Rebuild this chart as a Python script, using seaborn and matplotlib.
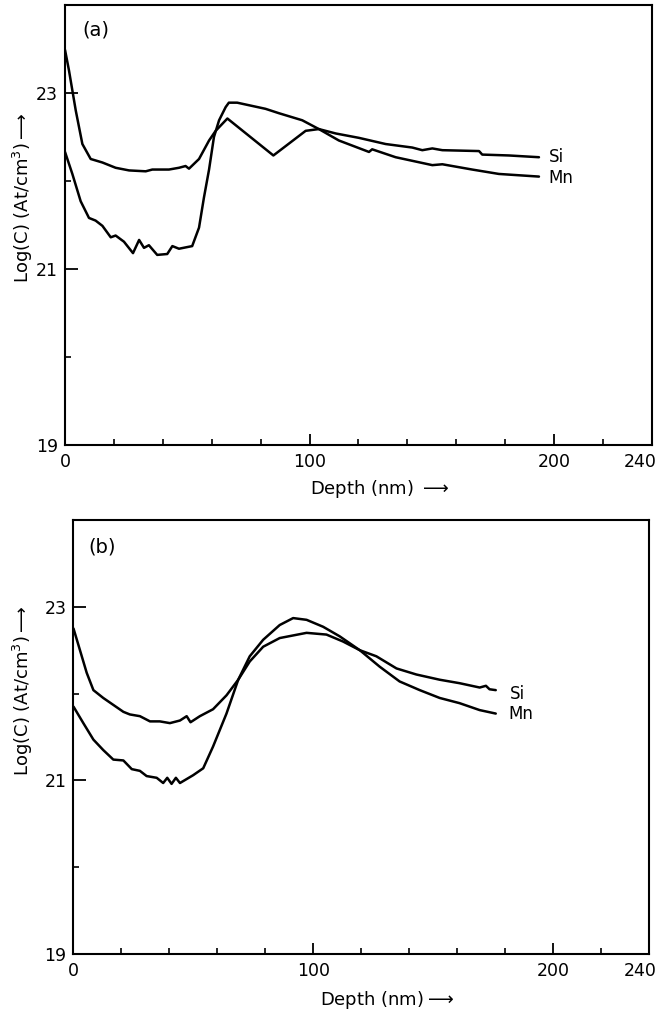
import matplotlib
matplotlib.use("Agg")
import matplotlib.pyplot as plt
import matplotlib.transforms as mtransforms
import seaborn as sns
import pandas as pd

# ---------------- data ----------------
si_a_x = [0, 1.6, 4.4, 7.1, 10.5, 15.3, 20.7, 26.2, 33.0, 35.7, 42.5, 46.6, 49.3, 50.7,
          54.8, 58.9, 61.6, 66.4, 85.2, 98.4, 103.8, 110.7, 120.2, 131.1, 142.0, 146.1,
          150.2, 154.3, 169.3, 170.6, 181.5, 193.8]
si_a_y = [23.49, 23.26, 22.80, 22.42, 22.25, 22.21, 22.15, 22.12, 22.11, 22.13, 22.13, 22.15,
          22.17, 22.14, 22.25, 22.46, 22.57, 22.71, 22.29, 22.57, 22.59, 22.54, 22.49, 22.42,
          22.38, 22.35, 22.37, 22.35, 22.34, 22.30, 22.29, 22.27]

mn_a_x = [0, 3.0, 6.4, 9.8, 12.5, 15.3, 18.7, 20.7, 24.1, 27.8, 30.3, 32.3, 34.3, 37.7,
          41.8, 43.9, 46.6, 52.0, 54.8, 56.8, 58.9, 60.9, 63.0, 65.7, 67.0, 70.4, 82.0,
          87.5, 97.0, 103.8, 112.0, 124.3, 125.6, 135.2, 150.2, 154.3, 166.5, 177.4, 193.8]
mn_a_y = [22.33, 22.08, 21.77, 21.58, 21.55, 21.49, 21.36, 21.38, 21.31, 21.18, 21.33, 21.24,
          21.27, 21.16, 21.17, 21.26, 21.23, 21.26, 21.47, 21.81, 22.13, 22.50, 22.69, 22.84,
          22.89, 22.89, 22.82, 22.77, 22.69, 22.59, 22.46, 22.33, 22.36, 22.27, 22.18, 22.19,
          22.13, 22.08, 22.05]

si_b_x = [0, 2.7, 5.5, 8.3, 12.4, 16.6, 20.8, 23.5, 27.7, 31.9, 36.0, 40.2, 44.4, 47.2,
          48.8, 52.7, 58.2, 63.8, 68.7, 73.5, 79.1, 86.0, 97.2, 105.5, 112.4, 119.4, 126.3,
          134.7, 143.0, 152.7, 161.0, 169.4, 172.0, 173.5, 176.1]
si_b_y = [22.75, 22.50, 22.24, 22.04, 21.95, 21.87, 21.79, 21.76, 21.74, 21.68, 21.68, 21.66,
          21.69, 21.74, 21.67, 21.74, 21.82, 21.98, 22.16, 22.37, 22.54, 22.64, 22.70, 22.68,
          22.60, 22.50, 22.43, 22.29, 22.22, 22.16, 22.12, 22.07, 22.09, 22.05, 22.04]

mn_b_x = [0, 4.1, 8.3, 12.4, 16.6, 20.8, 24.3, 27.7, 30.5, 34.7, 37.4, 39.1, 40.9, 42.7,
          44.4, 49.9, 54.1, 58.2, 63.8, 68.7, 73.5, 79.1, 86.0, 91.6, 97.2, 104.1, 111.0,
          119.4, 127.7, 136.0, 144.4, 152.7, 161.0, 169.4, 176.1]
mn_b_y = [21.85, 21.66, 21.47, 21.35, 21.24, 21.23, 21.13, 21.11, 21.05, 21.03, 20.97, 21.03,
          20.96, 21.03, 20.97, 21.06, 21.14, 21.39, 21.77, 22.16, 22.43, 22.62, 22.79, 22.87,
          22.85, 22.77, 22.66, 22.50, 22.31, 22.14, 22.04, 21.95, 21.89, 21.81, 21.77]

x_major = [0, 100, 200, 240]
x_minor = [20, 40, 60, 80, 120, 140, 160, 180, 220]
y_major = [19, 21, 23]
y_minor = [20, 22]
panel_labels = ["(a)", "(b)"]
series_names = ["Si", "Mn"]

# ---------------- plot ----------------
sns.set_style("ticks")
plt.rcParams['font.family'] = ['DejaVu Sans']
plt.rcParams['mathtext.fontset'] = 'dejavusans'
plt.rcParams['text.color'] = 'black'
plt.rcParams['xtick.color'] = 'black'
plt.rcParams['ytick.color'] = 'black'
plt.rcParams['axes.labelcolor'] = 'black'

fig = plt.figure(figsize=(6.58, 10.21), dpi=100)
ax_a = fig.add_axes([0.0988, 0.5642, 0.8920, 0.4309])
ax_b = fig.add_axes([0.1117, 0.0656, 0.8746, 0.4251])

panels = [
    (ax_a, si_a_x, si_a_y, mn_a_x, mn_a_y, [(7, 0), (7, -1)], (0.029, 0.943), -12),
    (ax_b, si_b_x, si_b_y, mn_b_x, mn_b_y, [(10, -3), (9, 0)], (0.025, 0.938), -9),
]

for i, (ax, sx, sy, mx, my, offs, lab_pos, shift240) in enumerate(panels):
    df_s = pd.DataFrame({"x": sx, "y": sy})
    df_m = pd.DataFrame({"x": mx, "y": my})
    sns.lineplot(data=df_s, x="x", y="y", ax=ax, color="black", lw=1.8,
                 sort=False, estimator=None)
    sns.lineplot(data=df_m, x="x", y="y", ax=ax, color="black", lw=1.8,
                 sort=False, estimator=None)
    ax.set_xlim(0, 240)
    ax.set_ylim(19, 24)
    ax.set_xticks(x_major)
    ax.set_xticks(x_minor, minor=True)
    ax.set_yticks(y_major)
    ax.set_yticks(y_minor, minor=True)
    ax.tick_params(which="major", axis="x", direction="in", length=8, width=1.3,
                   labelsize=12.5, pad=6, colors="black")
    ax.tick_params(which="minor", axis="x", direction="in", length=4, width=1.2, colors="black")
    ax.tick_params(which="major", axis="y", direction="in", length=9, width=1.3,
                   labelsize=12.5, pad=5, colors="black")
    ax.tick_params(which="minor", axis="y", direction="in", length=4, width=1.2, colors="black")
    for sp in ax.spines.values():
        sp.set_linewidth(1.5)
        sp.set_color("black")
    ax.set_xlabel("")
    ax.set_ylabel("")
    # shift the "240" label left so it stays within the figure
    lab = ax.get_xticklabels()[-1]
    lab.set_transform(lab.get_transform() +
                      mtransforms.ScaledTranslation(shift240 / 100, 0, fig.dpi_scale_trans))
    ax.text(lab_pos[0], lab_pos[1], panel_labels[i], transform=ax.transAxes, fontsize=14,
            ha="left", va="center", color="black")
    ax.annotate(series_names[0], (sx[-1], sy[-1]), xytext=offs[0],
                textcoords="offset points", fontsize=12, ha="left", va="center", color="black")
    ax.annotate(series_names[1], (mx[-1], my[-1]), xytext=offs[1],
                textcoords="offset points", fontsize=12, ha="left", va="center", color="black")

ylab = r"Log(C) (At/cm$^3$)$\longrightarrow$"
fig.text(0.035, 0.806, ylab, rotation=90, fontsize=13, ha="center", va="center", color="black")
fig.text(0.035, 0.324, ylab, rotation=90, fontsize=13, ha="center", va="center", color="black")
fig.text(0.684, 0.521, r"Depth (nm) $\longrightarrow$", fontsize=13, ha="right", va="center",
         color="black")
fig.text(0.690, 0.0206, r"Depth (nm)$\longrightarrow$", fontsize=13, ha="right", va="center",
         color="black")

fig.savefig("out.png", dpi=100)
